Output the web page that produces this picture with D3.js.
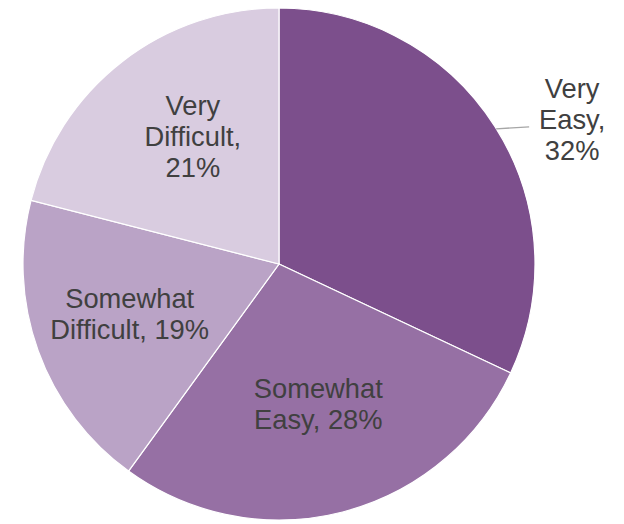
<!DOCTYPE html>
<html>
<head>
<meta charset="utf-8">
<script src="https://cdn.jsdelivr.net/npm/d3@7"></script>
<style>
  html, body { margin: 0; padding: 0; background: #fff; }
  svg { display: block; }
</style>
</head>
<body>
<svg id="chart" width="624" height="524"></svg>
<script>
// Survey answers, clockwise from 12 o'clock
const categories = ["Very Easy", "Somewhat Easy", "Somewhat Difficult", "Very Difficult"];
const values = [32, 28, 19, 21];
const labelLines = [
  ["Very", "Easy,", "32%"],
  ["Somewhat", "Easy, 28%"],
  ["Somewhat", "Difficult, 19%"],
  ["Very", "Difficult,", "21%"]
];
const colors = ["#7C4F8C", "#9670A4", "#BAA3C6", "#D9CCE0"];

const width = 624, height = 524;
const cx = 279, cy = 264, R = 256;
const fontSize = 27.3, lineH = 31;

const svg = d3.select("#chart");
const g = svg.append("g").attr("transform", `translate(${cx},${cy})`);

const pie = d3.pie().sort(null).value(d => d.value);
const arcs = pie(categories.map((c, i) => ({ name: c, value: values[i], lines: labelLines[i] })));

const arc = d3.arc().innerRadius(0).outerRadius(R);

g.selectAll("path.slice")
  .data(arcs)
  .enter().append("path")
  .attr("class", "slice")
  .attr("d", arc)
  .attr("fill", (d, i) => colors[i])
  .attr("stroke", "#ffffff")
  .attr("stroke-width", 1.2);

// Label placement: the first slice sits outside with a leader line,
// the others are placed inside at a fraction of the radius, with small nudges.
const insideFactor = [null, 0.57, 0.62, 0.60];
const nudge = [[2, 1], [3, -2], [0, -4], [8, -6]];

function drawBlock(x, yMid, lines) {
  const n = lines.length;
  const capH = fontSize * 0.716;
  // vertical centre of block = between cap top of first line and last baseline
  const firstBase = yMid - ((n - 1) * lineH - capH) / 2;
  const t = g.append("text")
    .attr("text-anchor", "middle")
    .attr("font-family", "'Liberation Sans', Arial, sans-serif")
    .attr("font-size", fontSize)
    .attr("fill", "#404040");
  lines.forEach((s, k) => {
    t.append("tspan").attr("x", x).attr("y", firstBase + k * lineH).text(s);
  });
}

arcs.forEach((d, i) => {
  if (i === 0) {
    const edge = d3.arc().innerRadius(R).outerRadius(R).centroid(d);
    const x0 = edge[0] + 1, y0 = edge[1] + 2;
    const endX = x0 + 33, endY = y0 - 2;
    g.append("line")
      .attr("x1", x0).attr("y1", y0)
      .attr("x2", endX).attr("y2", endY)
      .attr("stroke", "#A6A6A6").attr("stroke-width", 1.3);
    drawBlock(endX + 41 + nudge[i][0], endY - 9 + nudge[i][1], d.data.lines);
  } else {
    const r = R * insideFactor[i];
    const c = d3.arc().innerRadius(r).outerRadius(r).centroid(d);
    drawBlock(c[0] + nudge[i][0], c[1] + nudge[i][1], d.data.lines);
  }
});
</script>
</body>
</html>
